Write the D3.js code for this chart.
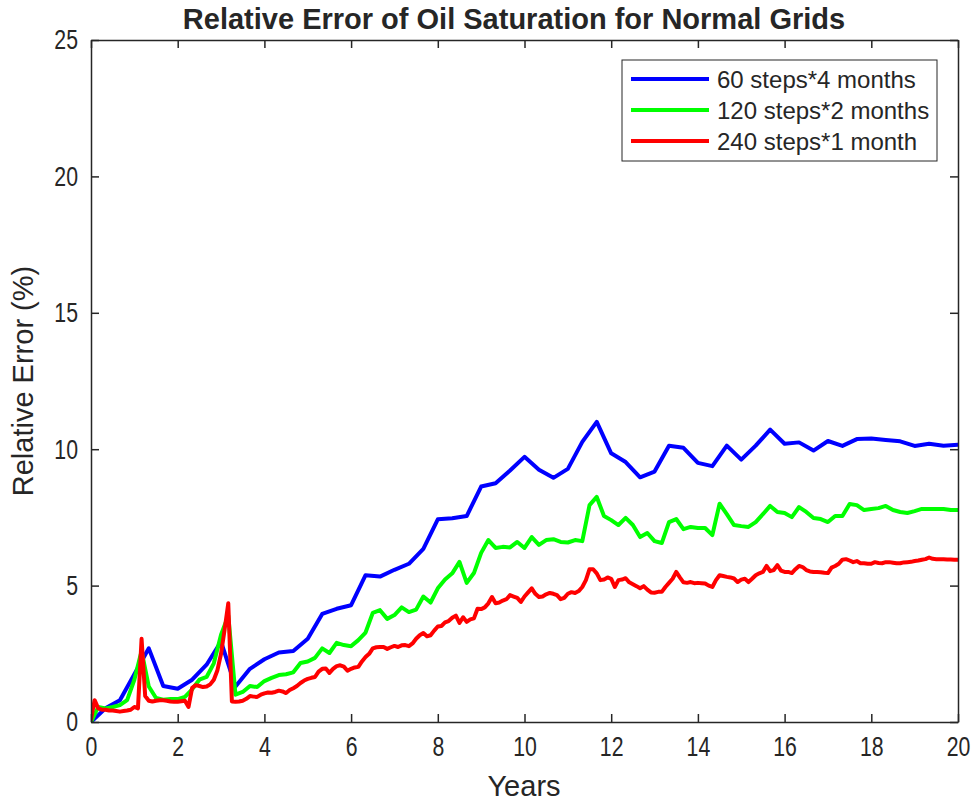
<!DOCTYPE html>
<html>
<head>
<meta charset="utf-8">
<script src="https://cdn.jsdelivr.net/npm/d3@7"></script>
<style>
  html, body { margin: 0; padding: 0; background: #fff; }
  svg { display: block; }
  text { font-family: "Liberation Sans", Arial, Helvetica, sans-serif; fill: #262626; }
</style>
</head>
<body>
<svg id="chart" width="973" height="803"></svg>
<script>
// ---- data ----
const titleText = "Relative Error of Oil Saturation for Normal Grids";
const xLabel = "Years";
const yLabel = "Relative Error (%)";
const xTicks = [0, 2, 4, 6, 8, 10, 12, 14, 16, 18, 20];
const yTicks = [0, 5, 10, 15, 20, 25];
const seriesNames = ["60 steps*4 months", "120 steps*2 months", "240 steps*1 month"];
const seriesColors = ["#0000ff", "#00ff00", "#ff0000"];
const seriesSteps = [60, 120, 240];

// 60 steps, every 4 months (61 points)
const blueValues = [0, 0.5, 0.8, 1.75, 2.7, 1.32, 1.22, 1.55, 2.1, 2.95, 1.3, 1.95, 2.3, 2.55, 2.6, 3.05, 3.96, 4.15, 4.28, 5.38,
  5.33, 5.58, 5.8, 6.35, 7.43, 7.47, 7.55, 8.63, 8.75, 9.22, 9.72, 9.25, 8.95, 9.28, 10.27, 11.0, 9.85, 9.53, 8.97, 9.18,
  10.13, 10.05, 9.5, 9.38, 10.13, 9.62, 10.13, 10.72, 10.2, 10.25, 9.95, 10.3, 10.12, 10.37, 10.39, 10.34, 10.29, 10.12, 10.2, 10.13,
  10.16];

// 120 steps, every 2 months (121 points)
const greenValues = [0, 0.55, 0.5, 0.55, 0.62, 0.8, 1.55, 2.6, 1.3, 0.88, 0.82, 0.84, 0.84, 0.92, 1.2, 1.55, 1.65, 2.15, 3.2, 3.9,
  1.0, 1.1, 1.32, 1.28, 1.5, 1.62, 1.72, 1.75, 1.82, 2.16, 2.22, 2.35, 2.7, 2.53, 2.9, 2.82, 2.78, 3.0, 3.28, 4.0,
  4.1, 3.78, 3.92, 4.2, 4.03, 4.12, 4.6, 4.38, 4.9, 5.22, 5.45, 5.87, 5.1, 5.46, 6.2, 6.67, 6.38, 6.42, 6.4, 6.6,
  6.38, 6.78, 6.49, 6.67, 6.7, 6.6, 6.58, 6.67, 6.63, 7.95, 8.25, 7.55, 7.4, 7.22, 7.48, 7.22, 6.78, 6.93, 6.63, 6.56,
  7.33, 7.44, 7.07, 7.15, 7.11, 7.11, 6.85, 8.0, 7.62, 7.22, 7.18, 7.15, 7.33, 7.62, 7.92, 7.7, 7.66, 7.51, 7.88, 7.7,
  7.48, 7.44, 7.33, 7.55, 7.55, 7.99, 7.95, 7.77, 7.81, 7.84, 7.92, 7.77, 7.7, 7.66, 7.73, 7.81, 7.81, 7.81, 7.81, 7.77,
  7.77];

// 240 steps, every month (241 points)
const redValues = [0.1, 0.8, 0.5, 0.45, 0.45, 0.42, 0.42, 0.4, 0.38, 0.4, 0.42, 0.45, 0.55, 0.5, 3.05, 0.95, 0.78, 0.75, 0.78, 0.8,
  0.8, 0.78, 0.75, 0.74, 0.74, 0.76, 0.78, 0.55, 1.25, 1.35, 1.32, 1.28, 1.3, 1.38, 1.55, 1.9, 2.5, 3.4, 4.35, 0.75,
  0.74, 0.75, 0.78, 0.85, 0.95, 0.93, 0.92, 1.0, 1.05, 1.08, 1.07, 1.1, 1.15, 1.12, 1.06, 1.17, 1.24, 1.32, 1.43, 1.52,
  1.58, 1.62, 1.65, 1.85, 1.95, 1.96, 1.8, 1.95, 2.05, 2.08, 2.03, 1.88, 1.95, 2.0, 2.02, 2.22, 2.38, 2.5, 2.7, 2.74,
  2.75, 2.75, 2.68, 2.74, 2.79, 2.75, 2.81, 2.82, 2.78, 2.88, 3.05, 3.18, 3.26, 3.14, 3.18, 3.35, 3.5, 3.52, 3.65, 3.7,
  3.82, 3.9, 3.63, 3.84, 3.67, 3.76, 3.8, 4.15, 4.14, 4.2, 4.35, 4.58, 4.35, 4.38, 4.45, 4.5, 4.65, 4.6, 4.55, 4.4,
  4.6, 4.75, 4.9, 4.7, 4.58, 4.6, 4.68, 4.73, 4.7, 4.65, 4.5, 4.55, 4.7, 4.76, 4.73, 4.8, 4.95, 5.2, 5.6, 5.6,
  5.45, 5.2, 5.22, 5.3, 5.25, 4.95, 5.2, 5.22, 5.27, 5.12, 5.05, 4.98, 4.9, 4.98, 4.85, 4.75, 4.74, 4.77, 4.77, 4.95,
  5.1, 5.25, 5.5, 5.3, 5.12, 5.1, 5.13, 5.09, 5.1, 5.09, 5.08, 5.0, 4.95, 5.2, 5.38, 5.35, 5.32, 5.3, 5.26, 5.13,
  5.22, 5.25, 5.13, 5.25, 5.38, 5.45, 5.5, 5.72, 5.53, 5.57, 5.75, 5.55, 5.5, 5.5, 5.46, 5.6, 5.72, 5.68, 5.57, 5.52,
  5.5, 5.5, 5.49, 5.47, 5.46, 5.66, 5.72, 5.8, 5.95, 5.97, 5.92, 5.86, 5.9, 5.82, 5.82, 5.8, 5.8, 5.86, 5.83, 5.82,
  5.86, 5.86, 5.84, 5.82, 5.82, 5.85, 5.86, 5.87, 5.9, 5.92, 5.95, 5.97, 6.03, 5.98, 5.97, 5.97, 5.97, 5.96, 5.96, 5.95,
  5.95];

const seriesValues = [blueValues, greenValues, redValues];

// ---- layout ----
const svg = d3.select("#chart");
const W = 973, H = 803;
const margin = { left: 91, right: W - 958, top: 40, bottom: H - 722 };
const plotW = W - margin.left - margin.right;
const plotH = H - margin.top - margin.bottom;
const axisColor = "#262626";
const tickLen = 8;
const narrow = 0.76;

const x = d3.scaleLinear().domain([0, 20]).range([margin.left, margin.left + plotW]);
const y = d3.scaleLinear().domain([0, 25]).range([margin.top + plotH, margin.top]);

// clip
svg.append("defs").append("clipPath").attr("id", "clip")
  .append("rect").attr("x", margin.left).attr("y", margin.top).attr("width", plotW).attr("height", plotH);

// series
const line = d3.line().x(d => x(d[0])).y(d => y(d[1]));
const gLines = svg.append("g").attr("clip-path", "url(#clip)");
seriesValues.forEach((vals, i) => {
  const n = seriesSteps[i];
  const pts = vals.map((v, k) => [20 * k / n, v]);
  gLines.append("path")
    .datum(pts)
    .attr("d", line)
    .attr("fill", "none")
    .attr("stroke", seriesColors[i])
    .attr("stroke-width", 4)
    .attr("stroke-linejoin", "round")
    .attr("stroke-linecap", "round");
});

// axes (inward ticks on all sides)
function styleAxis(g) {
  g.selectAll("path.domain").attr("stroke", axisColor).attr("stroke-width", 1.5);
  g.selectAll(".tick line").attr("stroke", axisColor).attr("stroke-width", 1.5);
  g.selectAll(".tick text").attr("fill", axisColor)
    .style("font-family", '"Liberation Sans", Arial, sans-serif').style("font-size", "28px");
}
// narrow tick glyphs like the reference (horizontal squeeze around the tick anchor)
function narrowTicks(g) {
  g.selectAll(".tick text").each(function () {
    const t = d3.select(this);
    const x0 = +t.attr("x") || 0;
    t.attr("x", x0 / narrow).attr("transform", `scale(${narrow},1)`);
  });
}
const fmt = d3.format("d");

const xBottom = svg.append("g").attr("transform", `translate(0,${margin.top + plotH})`)
  .call(d3.axisBottom(x).tickValues(xTicks).tickFormat(fmt).tickSizeInner(-tickLen).tickSizeOuter(0).tickPadding(14));
styleAxis(xBottom);
xBottom.selectAll(".tick text").attr("dy", "0.71em");
narrowTicks(xBottom);

const xTop = svg.append("g").attr("transform", `translate(0,${margin.top})`)
  .call(d3.axisTop(x).tickValues(xTicks).tickFormat("").tickSizeInner(-tickLen).tickSizeOuter(0));
styleAxis(xTop);

const yLeft = svg.append("g").attr("transform", `translate(${margin.left},0)`)
  .call(d3.axisLeft(y).tickValues(yTicks).tickFormat(fmt).tickSizeInner(-tickLen).tickSizeOuter(0).tickPadding(13));
styleAxis(yLeft);
narrowTicks(yLeft);

const yRight = svg.append("g").attr("transform", `translate(${margin.left + plotW},0)`)
  .call(d3.axisRight(y).tickValues(yTicks).tickFormat("").tickSizeInner(-tickLen).tickSizeOuter(0));
styleAxis(yRight);

// title
svg.append("text")
  .attr("x", 514).attr("y", 29)
  .attr("text-anchor", "middle")
  .style("font-size", "29px").style("font-weight", "bold")
  .attr("fill", "#000")
  .text(titleText);

// axis labels
svg.append("text")
  .attr("x", 524).attr("y", 796)
  .attr("text-anchor", "middle")
  .style("font-size", "29px")
  .text(xLabel);

svg.append("text")
  .attr("transform", `translate(33,${margin.top + plotH / 2}) rotate(-90)`)
  .attr("text-anchor", "middle")
  .style("font-size", "29px")
  .text(yLabel);

// legend
const lg = svg.append("g");
const lgX = 622, lgY = 60, lgW = 315, lgH = 101;
lg.append("rect").attr("x", lgX).attr("y", lgY).attr("width", lgW).attr("height", lgH)
  .attr("fill", "#fff").attr("stroke", "#262626").attr("stroke-width", 1);
seriesNames.forEach((name, i) => {
  const cy = 79 + i * 31;
  lg.append("line").attr("x1", 631).attr("x2", 709).attr("y1", cy).attr("y2", cy)
    .attr("stroke", seriesColors[i]).attr("stroke-width", 4);
  lg.append("text").attr("x", 717).attr("y", cy).attr("dy", "0.36em")
    .style("font-size", "24px").attr("fill", "#000").text(name);
});
</script>
</body>
</html>
